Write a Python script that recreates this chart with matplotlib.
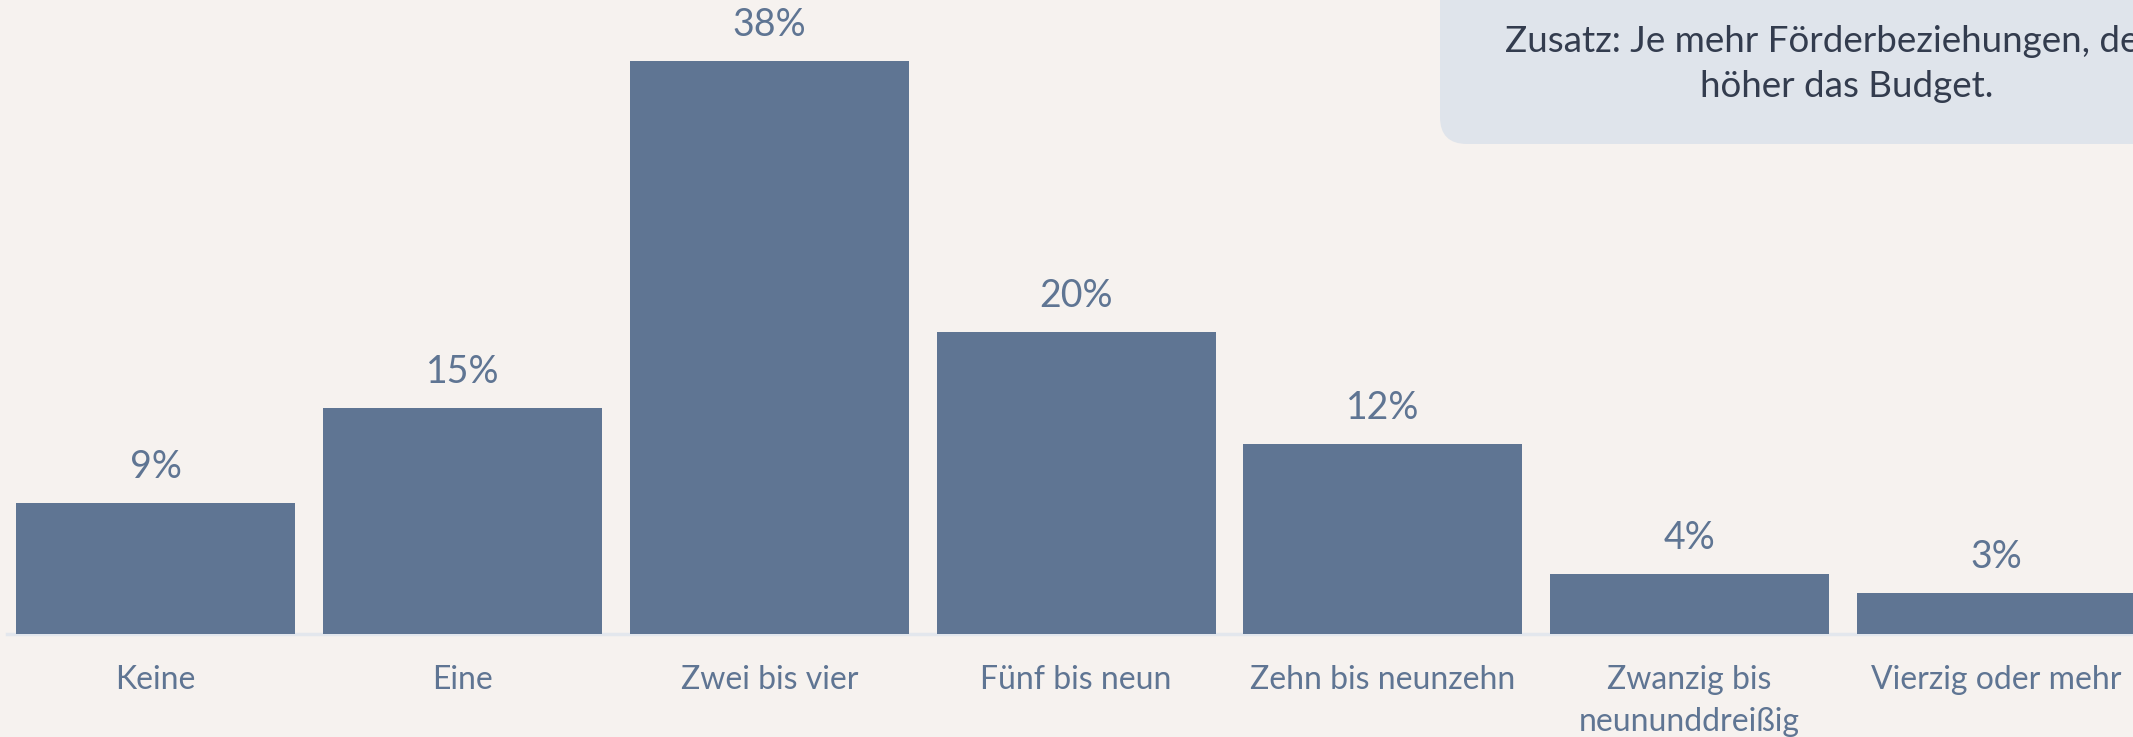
import matplotlib.pyplot as plt
from matplotlib.patches import FancyBboxPatch

# =========================
# DATA
# =========================
categories = ["Keine", "Eine", "Zwei bis vier", "Fünf bis neun",
              "Zehn bis neunzehn", "Zwanzig bis\nneununddreißig", "Vierzig oder mehr"]
shares = [8.7, 15, 38, 20, 12.6, 4, 2.7]          # bar heights as drawn
share_labels = ["9%", "15%", "38%", "20%", "12%", "4%", "3%"]  # labels as printed
note_lines = ["Zusatz: Je mehr Förderbeziehungen, desto", "höher das Budget."]

BG = "#f6f2ef"
BAR = "#5f7593"
NOTE_BG = "#dfe4eb"
NOTE_TXT = "#333c4e"

plt.rcParams['font.family'] = ['Lato', 'DejaVu Sans']

fig = plt.figure(figsize=(21.33, 7.37), dpi=100)
fig.patch.set_facecolor(BG)

# =========================
# BARS
# =========================
ax = fig.add_axes([0, 0, 1, 1])
ax.set_facecolor(BG)
x = list(range(len(categories)))
ax.bar(x, shares, width=0.909, color=BAR, zorder=2)
ax.plot([-0.485, 6.6], [0, 0], color="#e3e7ed", lw=2.5, zorder=1)

for xi, v, lab in zip(x, shares, share_labels):
    ax.text(xi, v + 1.65, lab, ha="center", va="baseline",
            fontsize=27, color=BAR)
for xi, c in zip(x, categories):
    for k, line in enumerate(c.split("\n")):
        ax.text(xi, -3.65 - 2.8 * k, line, ha="center", va="baseline",
                fontsize=23, color=BAR)

ax.set_xlim(-0.5075, 6.445)
ax.set_ylim(-6.83, 42.04)
ax.axis("off")

# =========================
# NOTE BOX (pixel coords)
# =========================
ov = fig.add_axes([0, 0, 1, 1])
ov.set_xlim(0, 2133)
ov.set_ylim(737, 0)
ov.axis("off")
ov.patch.set_alpha(0)
ov.add_patch(FancyBboxPatch((1440, -80), 814, 224,
                            boxstyle="round,pad=0,rounding_size=27",
                            fc=NOTE_BG, ec="none"))
ov.text(1847, 52, note_lines[0], ha="center", va="baseline", fontsize=26.5,
        color=NOTE_TXT)
ov.text(1847, 97, note_lines[1], ha="center", va="baseline", fontsize=26.5,
        color=NOTE_TXT)

fig.savefig("out.png", dpi=100, facecolor=BG)
